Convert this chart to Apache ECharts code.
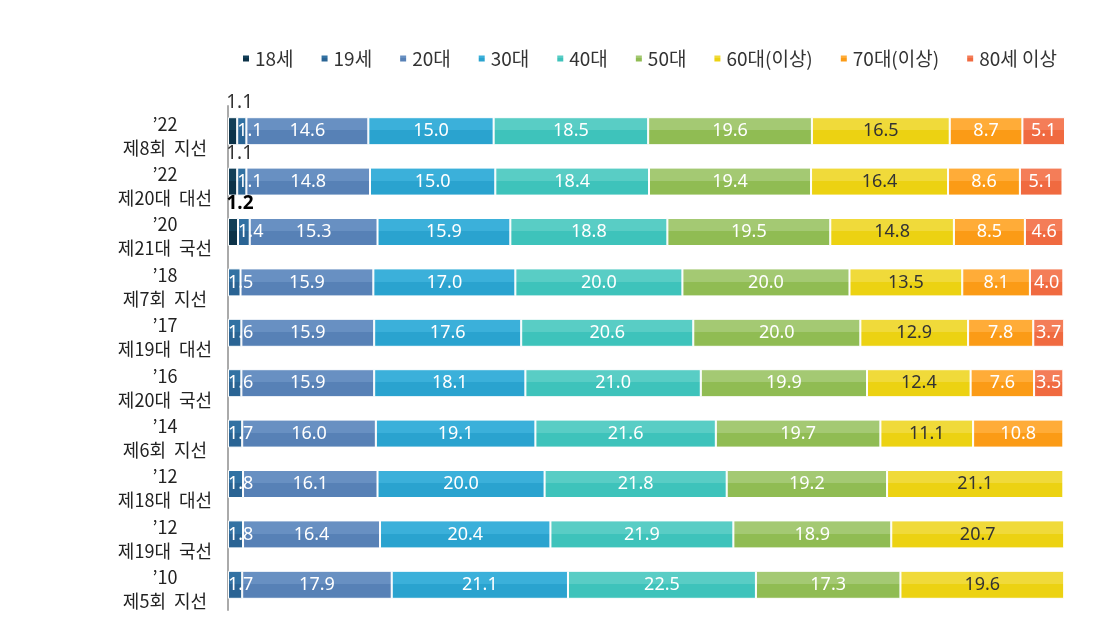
<!DOCTYPE html>
<html>
<head>
<meta charset="utf-8">
<script src="https://cdn.jsdelivr.net/npm/echarts@6/dist/echarts.min.js"></script>
<style>
  html, body { margin: 0; padding: 0; background: #fff; }
  #chart { width: 1113px; height: 626px; }
</style>
</head>
<body>
<div id="chart"></div>
<script>
var elections = ['’22\n제8회  지선', '’22\n제20대  대선', '’20\n제21대  국선', '’18\n제7회  지선', '’17\n제19대  대선',
    '’16\n제20대  국선', '’14\n제6회  지선', '’12\n제18대  대선', '’12\n제19대  국선', '’10\n제5회  지선'];
var groups = ['18세', '19세', '20대', '30대', '40대', '50대', '60대(이상)', '70대(이상)', '80세 이상'];

var age18 = [1.1, 1.1, 1.2, null, null, null, null, null, null, null];
var age19 = [1.1, 1.1, 1.4, 1.5, 1.6, 1.6, 1.7, 1.8, 1.8, 1.7];
var age20s = [14.6, 14.8, 15.3, 15.9, 15.9, 15.9, 16.0, 16.1, 16.4, 17.9];
var age30s = [15.0, 15.0, 15.9, 17.0, 17.6, 18.1, 19.1, 20.0, 20.4, 21.1];
var age40s = [18.5, 18.4, 18.8, 20.0, 20.6, 21.0, 21.6, 21.8, 21.9, 22.5];
var age50s = [19.6, 19.4, 19.5, 20.0, 20.0, 19.9, 19.7, 19.2, 18.9, 17.3];
var age60s = [16.5, 16.4, 14.8, 13.5, 12.9, 12.4, 11.1, 21.1, 20.7, 19.6];
var age70s = [8.7, 8.6, 8.5, 8.1, 7.8, 7.6, 10.8, null, null, null];
var age80s = [5.1, 5.1, 4.6, 4.0, 3.7, 3.5, null, null, null, null];

// light top / darker bottom, like the source
var colors = [
    ['#123f58', '#0c3248'],
    ['#3272a3', '#2a6494'],
    ['#6890c2', '#5781b6'],
    ['#3bb0da', '#2aa3cf'],
    ['#59cdc5', '#3ec3bb'],
    ['#a4c973', '#90bc53'],
    ['#f0da3a', '#ecd212'],
    ['#ffac38', '#fb9b16'],
    ['#f47d58', '#f06a40']
];

function fill(c) {
    return {
        type: 'linear', x: 0, y: 0, x2: 0, y2: 1,
        colorStops: [
            {offset: 0, color: c[0]}, {offset: 0.47, color: c[0]},
            {offset: 0.47, color: c[1]}, {offset: 1, color: c[1]}
        ]
    };
}

var numFont = "'Noto Sans', sans-serif";

function makeSeries(name, data, idx) {
    var label = {
        show: true,
        position: 'inside',
        color: '#fff',
        fontSize: 18,
        fontFamily: numFont,
        formatter: function(p) { return p.value == null ? '' : p.value.toFixed(1); }
    };
    if (idx === 0) {
        label.position = 'top';
        label.distance = 5;
        label.offset = [7, 0];
        label.color = '#333';
        label.fontSize = 19;
    }
    if (idx === 1) {
        label.position = 'insideLeft';
        label.distance = 0;
    }
    if (idx === 6) label.color = '#333';
    var d = data.map(function(v, i) {
        if (idx === 0 && i === 2) {
            return {value: v, label: {color: '#000', fontWeight: 'bold'}};
        }
        return v;
    });
    return {
        name: name,
        type: 'bar',
        stack: 'total',
        barWidth: 28,
        data: d,
        itemStyle: {color: fill(colors[idx]), borderColor: '#fff', borderWidth: 1},
        label: label
    };
}

var chart = echarts.init(document.getElementById('chart'));
var allData = [age18, age19, age20s, age30s, age40s, age50s, age60s, age70s, age80s];

chart.setOption({
    animation: false,
    color: colors.map(function(c) { return c[1]; }),
    legend: {
        top: 44,
        left: 236,
        itemWidth: 8,
        itemHeight: 8,
        itemGap: 26,
        icon: 'rect',
        textStyle: {fontSize: 19, color: '#333', fontFamily: "'Noto Sans CJK KR', sans-serif"},
        data: groups
    },
    grid: {left: 228, top: 106, width: 837, bottom: 16},
    xAxis: {type: 'value', min: 0, max: 100.2, show: false},
    yAxis: {
        type: 'category',
        inverse: true,
        data: elections,
        axisTick: {show: false},
        axisLine: {lineStyle: {color: '#aaa', width: 2}},
        axisLabel: {
            interval: 0,
            hideOverlap: false,
            align: 'center',
            margin: 63,
            fontSize: 18,
            lineHeight: 24,
            color: '#222',
            fontFamily: "'Noto Sans CJK KR', sans-serif",
            formatter: function(v) {
                var parts = v.split('\n');
                return '{s|}\n{t|' + parts[0] + '}\n{t|' + parts[1] + '}';
            },
            rich: {
                s: {height: 9, lineHeight: 9},
                t: {fontSize: 18, lineHeight: 24, color: '#222', fontFamily: "'Noto Sans CJK KR', sans-serif"}
            }
        }
    },
    series: groups.map(function(g, i) { return makeSeries(g, allData[i], i); })
});
</script>
</body>
</html>
